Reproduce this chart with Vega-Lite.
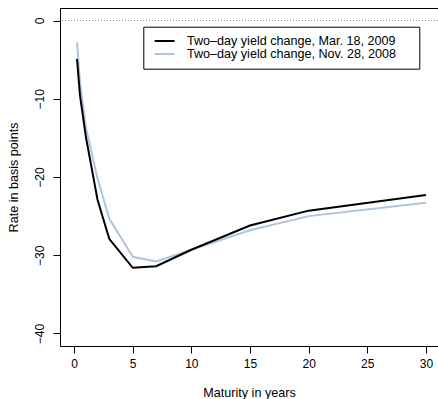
{
  "$schema": "https://vega.github.io/schema/vega-lite/v6.json",
  "width": 378,
  "height": 338,
  "autosize": "none",
  "padding": {"left": 60, "top": 8, "right": 0, "bottom": 53},
  "background": "white",
  "config": {"view": {"stroke": null}, "font": "Liberation Sans"},
  "data": {"values": [
    {"maturity": 0.25, "change": -2.8, "series": "Two–day yield change, Nov. 28, 2008"},
    {"maturity": 0.5, "change": -7.8, "series": "Two–day yield change, Nov. 28, 2008"},
    {"maturity": 1, "change": -13.6, "series": "Two–day yield change, Nov. 28, 2008"},
    {"maturity": 2, "change": -20.2, "series": "Two–day yield change, Nov. 28, 2008"},
    {"maturity": 3, "change": -25.3, "series": "Two–day yield change, Nov. 28, 2008"},
    {"maturity": 5, "change": -30.2, "series": "Two–day yield change, Nov. 28, 2008"},
    {"maturity": 7, "change": -30.8, "series": "Two–day yield change, Nov. 28, 2008"},
    {"maturity": 10, "change": -29.3, "series": "Two–day yield change, Nov. 28, 2008"},
    {"maturity": 15, "change": -26.8, "series": "Two–day yield change, Nov. 28, 2008"},
    {"maturity": 20, "change": -25.0, "series": "Two–day yield change, Nov. 28, 2008"},
    {"maturity": 30, "change": -23.3, "series": "Two–day yield change, Nov. 28, 2008"},
    {"maturity": 0.25, "change": -4.9, "series": "Two–day yield change, Mar. 18, 2009"},
    {"maturity": 0.5, "change": -9.5, "series": "Two–day yield change, Mar. 18, 2009"},
    {"maturity": 1, "change": -14.8, "series": "Two–day yield change, Mar. 18, 2009"},
    {"maturity": 2, "change": -22.9, "series": "Two–day yield change, Mar. 18, 2009"},
    {"maturity": 3, "change": -27.9, "series": "Two–day yield change, Mar. 18, 2009"},
    {"maturity": 5, "change": -31.6, "series": "Two–day yield change, Mar. 18, 2009"},
    {"maturity": 7, "change": -31.4, "series": "Two–day yield change, Mar. 18, 2009"},
    {"maturity": 10, "change": -29.3, "series": "Two–day yield change, Mar. 18, 2009"},
    {"maturity": 15, "change": -26.2, "series": "Two–day yield change, Mar. 18, 2009"},
    {"maturity": 20, "change": -24.3, "series": "Two–day yield change, Mar. 18, 2009"},
    {"maturity": 30, "change": -22.3, "series": "Two–day yield change, Mar. 18, 2009"}
  ]},
  "layer": [
    {
      "data": {"values": [{}]},
      "mark": {"type": "rule", "color": "#8c8c8c", "strokeDash": [1, 2], "strokeWidth": 1},
      "encoding": {"y": {"datum": 0}}
    },
    {
      "data": {"values": [{}]},
      "mark": {"type": "rule", "color": "black", "strokeWidth": 1, "yOffset": 0.5},
      "encoding": {"y": {"datum": 1.6}}
    },
    {
      "mark": {"type": "line", "strokeWidth": 2, "clip": true},
      "encoding": {
        "x": {
          "field": "maturity", "type": "quantitative",
          "scale": {"domain": [-1.2, 31.03], "nice": false, "zero": false},
          "axis": {
            "values": [0, 5, 10, 15, 20, 25, 30],
            "title": "Maturity in years",
            "grid": false,
            "domain": true, "domainColor": "black",
            "ticks": true, "tickColor": "black", "tickSize": 7,
            "labelPadding": 5, "labelFontSize": 12, "labelColor": "black", "labelFlush": false,
            "titleFontSize": 12.6, "titleFontWeight": "normal", "titleColor": "black",
            "titleY": 50, "titleBaseline": "alphabetic"
          }
        },
        "y": {
          "field": "change", "type": "quantitative",
          "scale": {"domain": [-41.6, 1.6], "nice": false, "zero": false},
          "axis": {
            "values": [-40, -30, -20, -10, 0],
            "title": "Rate in basis points",
            "grid": false,
            "domain": true, "domainColor": "black",
            "ticks": true, "tickColor": "black", "tickSize": 7,
            "labelAngle": 270, "labelAlign": "center", "labelBaseline": "alphabetic",
            "labelPadding": 9.5, "labelFontSize": 12, "labelColor": "black", "labelFlush": false,
            "titleFontSize": 12.6, "titleFontWeight": "normal", "titleColor": "black",
            "titleAngle": 270, "titleX": -47, "titleY": 169, "titleAlign": "center", "titleBaseline": "middle"
          }
        },
        "color": {
          "field": "series", "type": "nominal",
          "scale": {
            "domain": ["Two–day yield change, Mar. 18, 2009", "Two–day yield change, Nov. 28, 2008"],
            "range": ["black", "#B0C4DE"]
          },
          "legend": {
            "orient": "none", "legendX": 83.3, "legendY": 18.7,
            "title": " ", "titleOrient": "right", "titlePadding": 15,
            "strokeColor": "black", "fillColor": "white", "padding": 8,
            "symbolType": "M-2,0H2", "symbolStrokeWidth": 2, "symbolSize": 100,
            "symbolOffset": 7, "symbolFillColor": "transparent",
            "labelFontSize": 12.6, "labelColor": "black", "labelOffset": 16, "labelLimit": 0,
            "rowPadding": 0
          }
        }
      }
    }
  ]
}
